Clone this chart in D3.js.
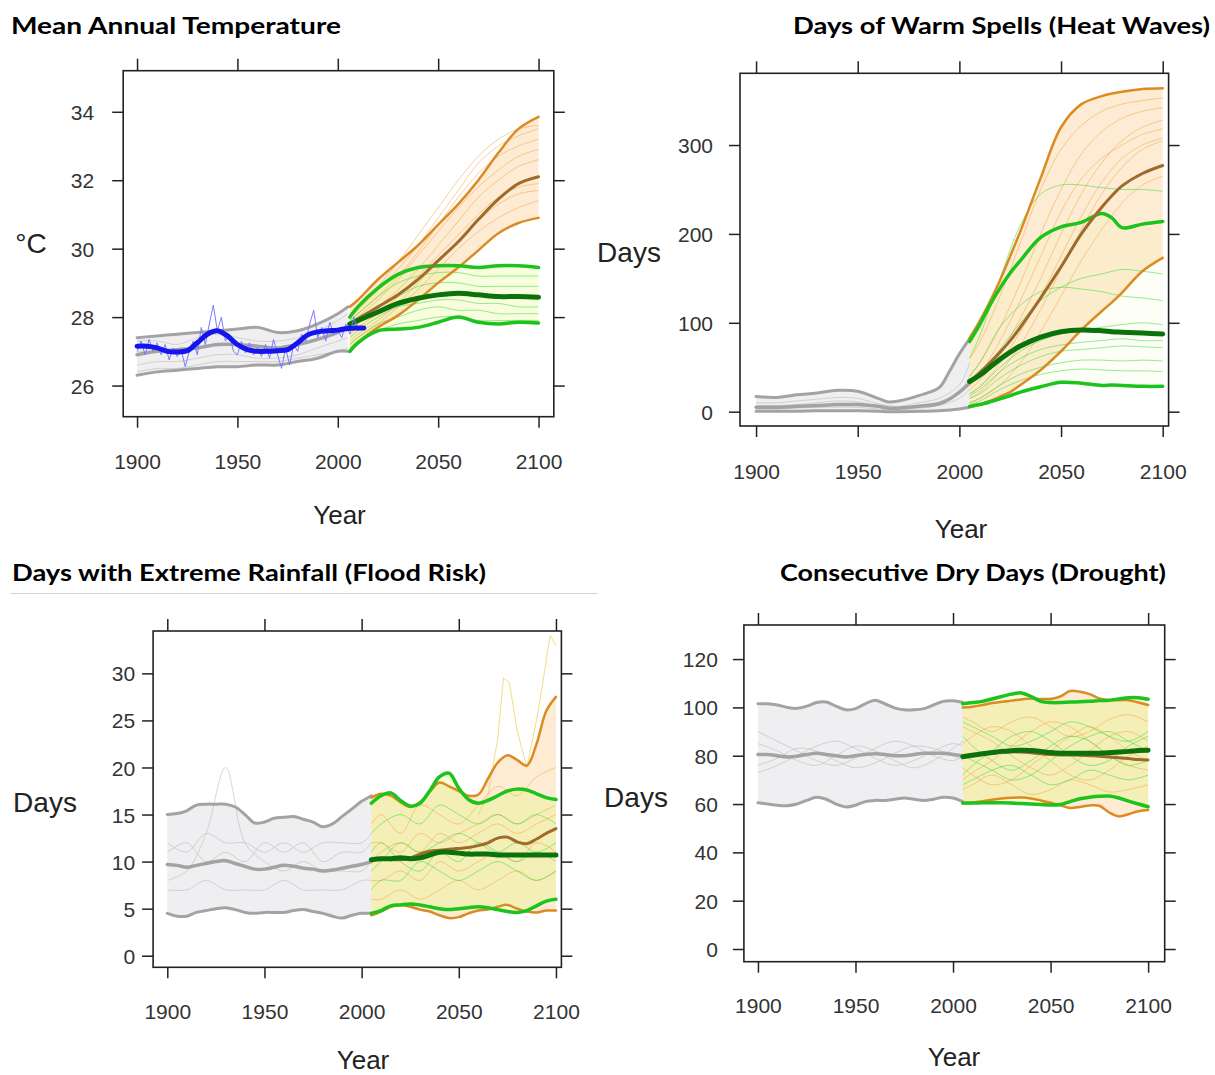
<!DOCTYPE html>
<html>
<head>
<meta charset="utf-8">
<script src="https://cdn.jsdelivr.net/npm/d3@7"></script>
<style>
  body { margin: 0; background: #fff; }
  svg { display: block; }
</style>
</head>
<body>
<svg id="chart" width="1215" height="1075"></svg>
<script>
// ---- shared year axes ----
const X_TICKS = [1900, 1950, 2000, 2050, 2100];
const YEARS_H5 = [1900,1905,1910,1915,1920,1925,1930,1935,1940,1945,1950,1955,1960,1965,1970,1975,1980,1985,1990,1995,2000,2005];
const YEARS_F5 = [2005,2010,2015,2020,2025,2030,2035,2040,2045,2050,2055,2060,2065,2070,2075,2080,2085,2090,2095,2100];
const YEARS_H10 = [1900,1910,1920,1930,1940,1950,1960,1970,1980,1990,2000,2005];
const YEARS_F10 = [2005,2010,2020,2030,2040,2050,2060,2070,2080,2090,2100];
const YEARS_F10_P1 = [2006,2010,2020,2030,2040,2050,2060,2070,2080,2090,2100];

// ---- panel 1: mean annual temperature (°C) ----
const P1_HIST_UP  = [27.4,27.45,27.5,27.55,27.6,27.65,27.7,27.55,27.6,27.8,28.1,28.3];
const P1_HIST_MID = [26.9,27.0,27.05,27.1,27.2,27.2,27.15,27.1,27.2,27.35,27.55,27.7];
const P1_HIST_LO  = [26.3,26.4,26.45,26.5,26.55,26.55,26.6,26.6,26.7,26.8,27.0,27.0];
const P1_HIST_THIN = [
  [27.3,27.3,27.2,27.4,27.5,27.4,27.3,27.3,27.4,27.6,27.9,28.1],
  [27.0,27.0,27.0,27.1,27.2,27.2,27.1,27.1,27.2,27.4,27.6,27.8],
  [26.6,26.7,26.7,26.8,26.9,26.9,26.8,26.8,26.9,27.1,27.3,27.4],
  [26.4,26.5,26.5,26.6,26.7,26.7,26.7,26.7,26.8,26.9,27.0,27.1]
];
const P1_ORANGE_UP  = [28.3,28.5,29.1,29.6,30.1,30.7,31.3,32.0,32.8,33.5,33.85];
const P1_ORANGE_MID = [27.8,27.95,28.3,28.65,29.1,29.65,30.2,30.85,31.45,31.9,32.1];
const P1_ORANGE_LO  = [27.0,27.25,27.7,28.05,28.5,29.0,29.45,29.95,30.45,30.75,30.9];
const P1_GREEN_UP   = [28.0,28.3,28.85,29.25,29.45,29.5,29.5,29.45,29.5,29.5,29.45];
const P1_GREEN_MID  = [27.8,27.9,28.15,28.4,28.55,28.65,28.7,28.65,28.6,28.6,28.58];
const P1_GREEN_LO   = [27.0,27.25,27.6,27.65,27.7,27.85,28.0,27.85,27.8,27.85,27.83];
const P1_ORANGE_THIN = [
  [28.1,28.3,28.9,29.6,30.4,31.2,32.0,32.7,33.2,33.5,33.6],
  [27.8,28.0,28.5,29.1,29.8,30.5,31.2,31.8,32.3,32.7,32.9],
  [27.5,27.7,28.1,28.6,29.2,29.8,30.4,31.0,31.5,31.8,31.9],
  [27.2,27.4,27.8,28.3,28.8,29.4,30.0,30.5,30.9,31.2,31.4],
  [27.9,28.1,28.6,29.2,29.9,30.7,31.5,32.2,32.7,33.0,33.2],
  [27.6,27.8,28.3,28.8,29.4,30.1,30.8,31.5,32.0,32.4,32.6],
  [27.3,27.5,27.9,28.4,29.0,29.6,30.2,30.8,31.3,31.6,31.7],
  [28.0,28.2,28.8,29.4,30.1,30.9,31.7,32.5,33.0,33.3,33.5]
];
const P1_GREEN_THIN = [
  [27.9,28.1,28.6,29.0,29.2,29.3,29.3,29.2,29.2,29.2,29.2],
  [27.6,27.8,28.3,28.6,28.9,29.0,29.0,28.9,28.9,28.9,28.9],
  [27.4,27.6,28.0,28.3,28.4,28.5,28.5,28.4,28.4,28.3,28.3],
  [27.2,27.4,27.8,28.0,28.2,28.3,28.2,28.2,28.1,28.1,28.1],
  [27.1,27.3,27.6,27.8,27.9,28.0,28.0,27.9,27.9,27.9,27.9]
];
// observed record
const P1_OBS_YEARS = [1900,1905,1910,1915,1920,1925,1930,1935,1940,1945,1950,1955,1960,1965,1970,1975,1980,1985,1990,1995,2000,2005,2010,2013];
const P1_OBS_SMOOTH = [27.15,27.15,27.1,27.0,26.98,27.02,27.25,27.5,27.6,27.45,27.2,27.05,27.0,27.0,27.02,27.05,27.25,27.48,27.57,27.6,27.62,27.67,27.68,27.68];
const P1_ANNUAL_YEARS = [1900,1902,1904,1906,1908,1910,1912,1914,1916,1918,1920,1922,1924,1926,1928,1930,1932,1934,1936,1938,
  1940,1942,1944,1946,1948,1950,1952,1954,1956,1958,1960,1962,1964,1966,1968,1970,1972,1974,1976,1978,
  1980,1982,1984,1986,1988,1990,1992,1994,1996,1998,2000,2002,2004,2006,2008,2010,2012];
const P1_ANNUAL = [27.0,27.3,26.9,27.35,27.0,27.25,26.9,27.2,26.75,27.1,26.85,27.05,26.55,27.0,27.3,26.9,27.7,27.2,27.8,28.35,
  27.6,28.0,27.3,27.5,27.0,26.9,27.3,26.95,27.25,26.9,27.1,26.85,27.2,26.8,27.35,26.9,26.5,27.1,26.6,27.2,
  27.0,27.5,27.3,27.8,28.2,27.4,27.7,27.3,27.85,27.5,27.6,27.4,27.8,27.5,28.0,27.6,27.7];

// ---- panel 2: days of warm spells ----
const P2_HIST_YEARS = [1900,1910,1920,1930,1940,1950,1960,1965,1970,1980,1990,1995,2000,2005];
const P2_FUT_YEARS  = [2005,2010,2015,2020,2025,2030,2040,2050,2060,2070,2075,2080,2090,2100];
const P2_HIST_UP  = [17,16,19,21,24,23,15,11,12,18,27,45,65,82];
const P2_HIST_MID = [5,5,6,7,8,8,6,4,4,6,9,14,22,32];
const P2_HIST_LO  = [0.5,0.5,0.5,1,1,1,0.5,0,0,0.5,1,2,3,5];
const P2_HIST_THIN = [
  [10,10,12,14,16,15,9,6,10,15,30,55],
  [3,3,4,5,5,5,3,2,4,7,15,25],
  [7,7,8,10,12,11,7,5,7,11,22,40]
];
const P2_ORANGE_UP  = [83,102,124,148,175,203,263,320,346,355,358,360,363,364];
const P2_ORANGE_MID = [34,44,55,67,80,95,128,163,200,230,243,254,268,277];
const P2_ORANGE_LO  = [5,8,12,17,22,30,47,68,92,113,123,134,158,173];
const P2_GREEN_UP   = [79,98,120,139,156,170,196,208,213,223,218,207,211,214];
const P2_GREEN_MID  = [34,41,50,59,67,74,84,90,92,91,90,89.5,88.5,87.5];
const P2_GREEN_LO   = [6,8,11,14.5,18,22,28,33,32,29.5,30,29.5,28.5,28.5];
const P2_ORANGE_THIN = [
  [60,78,130,190,250,295,322,338,346,350,353],
  [40,55,95,145,200,250,290,315,330,338,342],
  [25,35,65,105,150,200,245,280,305,320,328],
  [15,22,45,75,115,160,205,245,275,295,305],
  [10,15,30,55,90,130,170,205,235,255,265],
  [30,42,80,125,175,225,262,285,300,312,318],
  [20,28,55,90,130,175,220,258,285,300,308]
];
const P2_GREEN_THIN = [
  [60,85,150,210,245,255,255,252,250,250,248],
  [30,40,70,100,125,140,150,155,160,158,155],
  [20,28,50,68,80,88,92,95,98,100,98],
  [15,20,38,52,62,68,70,72,74,73,72],
  [10,15,30,42,50,55,58,58,57,58,57],
  [8,12,25,35,42,46,48,47,46,46,45],
  [18,25,45,60,70,75,78,80,82,80,80],
  [40,55,95,120,135,140,138,135,130,128,125]
];

// ---- panel 3: days with extreme rainfall ----
const P3_HIST_UP  = [15.0,15.1,15.4,16.0,16.1,16.1,16.1,15.8,15.0,14.1,14.2,14.6,14.7,14.8,14.5,14.2,13.7,14.0,14.8,15.6,16.4,17.0];
const P3_HIST_MID = [9.7,9.6,9.4,9.6,9.8,10.0,10.1,9.8,9.5,9.2,9.2,9.4,9.6,9.5,9.3,9.2,9.0,9.1,9.3,9.5,9.7,10.0];
const P3_HIST_LO  = [4.5,4.2,4.2,4.6,4.8,5.0,5.1,4.9,4.6,4.5,4.6,4.6,4.6,4.8,4.9,4.7,4.5,4.2,4.0,4.3,4.5,4.5];
const P3_HIST_THIN = [
  [12,11,13,12,12,11,12,11,12,12,12,13],
  [7,7,8,7,7,7,8,7,7,7,8,8],
  [8,9,13,20,12,10,9,10,9,9,9,10],
  [11,12,10,11,10,12,11,12,10,11,11,12]
];
const P3_ORANGE_UP  = [16.8,17.2,17.0,16.3,15.8,16.3,17.4,18.4,18.0,17.5,17.0,17.1,18.8,20.5,21.3,20.8,20.2,22.5,26.0,27.5];
const P3_ORANGE_MID = [10.2,10.3,10.2,10.2,10.4,10.8,11.1,11.2,11.3,11.4,11.5,11.7,12.0,12.5,12.6,12.1,11.9,12.4,13.0,13.5];
const P3_ORANGE_LO  = [4.3,4.7,5.2,5.4,5.2,4.9,4.7,4.3,4.0,4.1,4.5,4.8,4.9,5.2,5.4,5.0,4.7,4.6,4.8,4.8];
const P3_GREEN_UP   = [16.2,17.0,17.3,16.5,15.9,16.2,17.5,19.0,19.4,17.8,16.6,16.2,16.5,17.0,17.5,17.7,17.6,17.2,16.8,16.6];
const P3_GREEN_MID  = [10.2,10.3,10.3,10.4,10.3,10.4,10.7,11.0,11.0,10.9,10.8,10.8,10.8,10.7,10.7,10.7,10.7,10.7,10.7,10.7];
const P3_GREEN_LO   = [4.5,4.8,5.3,5.4,5.5,5.4,5.2,5.0,4.9,5.0,5.1,5.2,5.1,4.9,4.7,4.6,4.8,5.3,5.8,6.0];
const P3_ORANGE_THIN = [
  [14,15,13,16,15,14,16,18,17,19,20],
  [12,12,11,13,12,13,14,15,14,15,16],
  [8,8,9,8,10,9,10,11,10,12,11],
  [6,6,7,6,7,8,7,8,9,8,9],
  [10,11,12,11,13,12,13,14,13,14,15]
];
const P3_GREEN_THIN = [
  [13,14,15,14,16,15,14,15,14,15,14],
  [9,10,12,11,12,13,12,11,12,11,12],
  [7,8,8,10,9,8,9,10,9,8,9],
  [11,12,10,9,11,10,12,11,10,11,10]
];
const P3_SPIKE_YEARS = [2060,2065,2070,2073,2076,2080,2085,2090,2094,2097,2100];
const P3_SPIKE = [15,17,23,29.5,29,24,20,25,30,34,33];

// ---- panel 4: consecutive dry days ----
const P4_HIST_UP  = [101.5,101.5,101,100,99.6,100.5,102,102.2,100.5,99,99.5,101.5,103,101.5,99.8,99,99,99.5,101,102.5,102.7,102];
const P4_HIST_MID = [80.5,80.5,80,79.5,79.8,80.5,81,80.5,80,79.5,80,80.5,80.8,80.5,80,80,80.5,81,81,81,80.5,80];
const P4_HIST_LO  = [60.5,60,59.5,59.3,60,61.5,62.8,62,60,58.8,59.5,61,61.5,61.5,62,62.5,62,61.5,62,62.8,62.5,61];
const P4_HIST_THIN = [
  [90,86,82,78,76,79,83,86,84,80,78,80],
  [73,76,80,84,86,83,79,76,78,82,85,84],
  [85,82,78,76,80,84,82,78,75,78,83,86],
  [76,79,83,82,78,75,77,81,84,83,80,78]
];
const P4_ORANGE_UP  = [100,100.3,101,101.8,102.3,102.8,103.3,103.7,103.5,103.5,104.5,106.8,106.5,105.5,103.7,103,103,103,102,101];
const P4_ORANGE_MID = [79.6,80.3,80.8,81.2,81.5,81.6,81.5,81.2,80.8,80.5,80.3,80.3,80.2,80,79.8,79.5,79.2,78.8,78.4,78.2];
const P4_ORANGE_LO  = [60.2,60.5,61.2,61.8,62.3,62.6,62.7,62.3,61.5,60.5,59.5,58.4,58.8,59.4,59.3,56.5,54.9,55.8,57,57.5];
const P4_GREEN_UP   = [101.5,102,102.5,103.5,104.5,105.5,106,104.5,102.5,102,102,102.2,102.3,102.5,102.8,103,103.5,104,104,103.4];
const P4_GREEN_MID  = [79.6,80.2,80.8,81.3,81.8,82.1,82.3,82.2,81.8,81.3,81,81,81,81,81,81.2,81.5,81.8,82.2,82.3];
const P4_GREEN_LO   = [60.4,60.4,60.5,60.5,60.5,60.4,60.2,60,59.8,59.6,59.8,61,62.2,62.8,63.2,63.3,62.5,61.2,60,58.9];
const P4_ORANGE_THIN = [
  [92,90,86,80,75,72,76,82,88,90,86],
  [70,73,78,84,90,94,92,86,80,76,74],
  [85,88,92,90,84,78,72,70,74,80,84],
  [75,72,68,70,76,82,88,92,88,82,78],
  [96,94,90,94,96,92,88,90,95,97,94],
  [66,68,72,68,64,66,70,68,65,66,68]
];
const P4_GREEN_THIN = [
  [88,84,78,74,78,84,88,86,80,76,78],
  [72,76,82,88,90,86,80,76,78,84,88],
  [80,78,74,70,72,78,84,88,90,86,82],
  [94,92,88,84,86,90,94,92,88,86,90],
  [68,70,74,76,72,68,70,74,72,70,72]
];

// ---- colours ----
const C = {
  grayBold: '#a3a3a3', grayBand: '#e0e0e4', grayThin: '#bcbcbc',
  orange: '#dc8b22', orangeMid: '#a06a2c', orangeBand: '#f8c476', orangeThin: '#f3a94a',
  green: '#1dc31d', greenMid: '#0b720b', greenBand: '#e4f77a', greenThin: '#3fdc3f',
  blue: '#1414ee', blueThin: '#7a7aff', axis: '#222', tick: '#333'
};

const panels = [
  {
    title: 'Mean Annual Temperature', titleX: 11, titleW: 330, titleY: 34,
    frame: {x0: 123.2, x1: 553.8, y0: 70.7, y1: 416.7},
    xDom: [1893.1, 2107.6], yDom: [25.09, 35.2], yTicks: [26, 28, 30, 32, 34],
    yLabOff: 29, xLabOff: 45,
    yLabel: '°C', yLabelPos: [31, 243], xLabelPos: [339.5, 515],
    histYears: YEARS_H10, histUp: P1_HIST_UP, histMid: P1_HIST_MID, histLo: P1_HIST_LO, histThin: P1_HIST_THIN,
    futYears: YEARS_F10_P1, thinYears: YEARS_F10_P1,
    oUp: P1_ORANGE_UP, oMid: P1_ORANGE_MID, oLo: P1_ORANGE_LO,
    gUp: P1_GREEN_UP, gMid: P1_GREEN_MID, gLo: P1_GREEN_LO,
    oThin: P1_ORANGE_THIN, gThin: P1_GREEN_THIN, obs: true, greenOpacity: 0.25
  },
  {
    title: 'Days of Warm Spells (Heat Waves)', titleX: 793, titleW: 417, titleY: 34,
    frame: {x0: 740, x1: 1168.6, y0: 73.3, y1: 426},
    xDom: [1892.1, 2102.9], yDom: [-16.1, 380.7], yTicks: [0, 100, 200, 300],
    yLabOff: 27, xLabOff: 45.7,
    yLabel: 'Days', yLabelPos: [629, 252], xLabelPos: [961, 529],
    histYears: P2_HIST_YEARS, histUp: P2_HIST_UP, histMid: P2_HIST_MID, histLo: P2_HIST_LO, histThin: P2_HIST_THIN,
    histThinYears: YEARS_H10,
    futYears: P2_FUT_YEARS, thinYears: YEARS_F10,
    oUp: P2_ORANGE_UP, oMid: P2_ORANGE_MID, oLo: P2_ORANGE_LO,
    gUp: P2_GREEN_UP, gMid: P2_GREEN_MID, gLo: P2_GREEN_LO,
    oThin: P2_ORANGE_THIN, gThin: P2_GREEN_THIN, greenOpacity: 0.08
  },
  {
    title: 'Days with Extreme Rainfall (Flood Risk)', titleX: 12, titleW: 474, titleY: 581, rule: true,
    frame: {x0: 153.1, x1: 561.4, y0: 631, y1: 967.3},
    xDom: [1892.7, 2102.8], yDom: [-1.23, 34.5], yTicks: [0, 5, 10, 15, 20, 25, 30],
    yLabOff: 18, xLabOff: 44.4,
    yLabel: 'Days', yLabelPos: [45, 802], xLabelPos: [363, 1060],
    histYears: YEARS_H5, histUp: P3_HIST_UP, histMid: P3_HIST_MID, histLo: P3_HIST_LO, histThin: P3_HIST_THIN,
    histThinYears: YEARS_H10,
    futYears: YEARS_F5, thinYears: YEARS_F10,
    oUp: P3_ORANGE_UP, oMid: P3_ORANGE_MID, oLo: P3_ORANGE_LO,
    gUp: P3_GREEN_UP, gMid: P3_GREEN_MID, gLo: P3_GREEN_LO,
    oThin: P3_ORANGE_THIN, gThin: P3_GREEN_THIN, spike: true, greenOpacity: 0.32
  },
  {
    title: 'Consecutive Dry Days (Drought)', titleX: 780, titleW: 386, titleY: 581,
    frame: {x0: 743.9, x1: 1164.7, y0: 625, y1: 961.7},
    xDom: [1892.8, 2108.5], yDom: [-5.25, 134.1], yTicks: [0, 20, 40, 60, 80, 100, 120],
    yLabOff: 26, xLabOff: 43.3,
    yLabel: 'Days', yLabelPos: [636, 797], xLabelPos: [954, 1057],
    histYears: YEARS_H5, histUp: P4_HIST_UP, histMid: P4_HIST_MID, histLo: P4_HIST_LO, histThin: P4_HIST_THIN,
    histThinYears: YEARS_H10,
    futYears: YEARS_F5, thinYears: YEARS_F10,
    oUp: P4_ORANGE_UP, oMid: P4_ORANGE_MID, oLo: P4_ORANGE_LO,
    gUp: P4_GREEN_UP, gMid: P4_GREEN_MID, gLo: P4_GREEN_LO,
    oThin: P4_ORANGE_THIN, gThin: P4_GREEN_THIN, greenOpacity: 0.32
  }
];

const svg = d3.select('#chart');
const AXIS_FONT = '"Liberation Sans", Arial, Helvetica, sans-serif';

function drawPanel(p, idx) {
  const f = p.frame;
  const x = d3.scaleLinear().domain(p.xDom).range([f.x0, f.x1]);
  const y = d3.scaleLinear().domain(p.yDom).range([f.y1, f.y0]);
  const curve = d3.curveCatmullRom.alpha(0.5);

  const mkLine = (xs) => d3.line().x((d, i) => x(xs[i])).y(d => y(d)).curve(curve);
  const mkArea = (xs, lo) => d3.area().x((d, i) => x(xs[i])).y0((d, i) => y(lo[i])).y1(d => y(d)).curve(curve);

  // title
  svg.append('text')
    .attr('x', p.titleX).attr('y', p.titleY)
    .attr('textLength', p.titleW).attr('lengthAdjust', 'spacingAndGlyphs')
    .style('font-family', 'Lato, "Noto Sans", sans-serif')
    .style('font-weight', 700).style('font-size', '23px').attr('fill', '#000')
    .text(p.title);
  if (p.rule) {
    svg.append('line').attr('x1', 10).attr('x2', 598).attr('y1', 593.5).attr('y2', 593.5)
      .attr('stroke', '#d4d4d4').attr('stroke-width', 1);
  }

  const g = svg.append('g');
  const clipId = 'clip' + idx;
  g.append('clipPath').attr('id', clipId).append('rect')
    .attr('x', f.x0).attr('y', f.y0).attr('width', f.x1 - f.x0).attr('height', f.y1 - f.y0);
  const plot = g.append('g').attr('clip-path', `url(#${clipId})`);

  // bands
  plot.append('path').datum(p.histUp).attr('d', mkArea(p.histYears, p.histLo))
    .attr('fill', C.grayBand).attr('fill-opacity', 0.5);
  plot.append('path').datum(p.oUp).attr('d', mkArea(p.futYears, p.oLo))
    .attr('fill', C.orangeBand).attr('fill-opacity', 0.32);
  plot.append('path').datum(p.gUp).attr('d', mkArea(p.futYears, p.gLo))
    .attr('fill', C.greenBand).attr('fill-opacity', p.greenOpacity);

  // thin ensemble members
  const hty = p.histThinYears || p.histYears;
  plot.selectAll('path.hthin').data(p.histThin).join('path').attr('class', 'hthin')
    .attr('d', mkLine(hty)).attr('fill', 'none').attr('stroke', C.grayThin)
    .attr('stroke-width', 1).attr('stroke-opacity', 0.6);
  plot.selectAll('path.othin').data(p.oThin).join('path').attr('class', 'othin')
    .attr('d', mkLine(p.thinYears)).attr('fill', 'none').attr('stroke', C.orangeThin)
    .attr('stroke-width', 1).attr('stroke-opacity', 0.55);
  plot.selectAll('path.gthin').data(p.gThin).join('path').attr('class', 'gthin')
    .attr('d', mkLine(p.thinYears)).attr('fill', 'none').attr('stroke', C.greenThin)
    .attr('stroke-width', 1).attr('stroke-opacity', 0.55);
  if (p.spike) {
    plot.append('path').datum(P3_SPIKE)
      .attr('d', d3.line().x((d, i) => x(P3_SPIKE_YEARS[i])).y(d => y(d)))
      .attr('fill', 'none').attr('stroke', '#e8d24a').attr('stroke-width', 1).attr('stroke-opacity', 0.7);
  }

  // bold envelope + median lines
  const bold = [
    [p.histYears, p.histUp, C.grayBold, 3],
    [p.histYears, p.histLo, C.grayBold, 3],
    [p.histYears, p.histMid, C.grayBold, 3.5],
    [p.futYears, p.oUp, C.orange, 2.5],
    [p.futYears, p.oLo, C.orange, 2.5],
    [p.futYears, p.gUp, C.green, 3.5],
    [p.futYears, p.gLo, C.green, 3.5],
    [p.futYears, p.oMid, C.orangeMid, 3],
    [p.futYears, p.gMid, C.greenMid, 5]
  ];
  bold.forEach(([xs, vals, col, w]) => {
    plot.append('path').datum(vals).attr('d', mkLine(xs))
      .attr('fill', 'none').attr('stroke', col).attr('stroke-width', w)
      .attr('stroke-linecap', 'round').attr('stroke-linejoin', 'round');
  });

  if (p.obs) {
    plot.append('path').datum(P1_ANNUAL)
      .attr('d', d3.line().x((d, i) => x(P1_ANNUAL_YEARS[i])).y(d => y(d)))
      .attr('fill', 'none').attr('stroke', C.blueThin).attr('stroke-width', 1);
    plot.append('path').datum(P1_OBS_SMOOTH).attr('d', mkLine(P1_OBS_YEARS))
      .attr('fill', 'none').attr('stroke', C.blue).attr('stroke-width', 5)
      .attr('stroke-linecap', 'round');
  }

  // frame
  g.append('rect').attr('x', f.x0).attr('y', f.y0)
    .attr('width', f.x1 - f.x0).attr('height', f.y1 - f.y0)
    .attr('fill', 'none').attr('stroke', C.axis).attr('stroke-width', 1.6);

  // axes (lattice style: ticks on all four sides, labels bottom/left)
  const styleAxis = sel => {
    sel.select('.domain').remove();
    sel.selectAll('line').attr('stroke', C.axis).attr('stroke-width', 1.5);
    sel.selectAll('text').style('font-family', AXIS_FONT).style('font-size', '21px').attr('fill', C.tick);
  };
  g.append('g').attr('transform', `translate(0,${f.y1})`)
    .call(d3.axisBottom(x).tickValues(X_TICKS).tickSize(11).tickFormat(d3.format('d')))
    .call(styleAxis)
    .call(s => s.selectAll('text').attr('y', p.xLabOff).attr('dy', '0.36em'));
  g.append('g').attr('transform', `translate(0,${f.y0})`)
    .call(d3.axisTop(x).tickValues(X_TICKS).tickSize(12).tickFormat(''))
    .call(styleAxis);
  g.append('g').attr('transform', `translate(${f.x0},0)`)
    .call(d3.axisLeft(y).tickValues(p.yTicks).tickSize(11))
    .call(styleAxis)
    .call(s => s.selectAll('text').attr('x', -p.yLabOff).attr('dy', '0.36em'));
  g.append('g').attr('transform', `translate(${f.x1},0)`)
    .call(d3.axisRight(y).tickValues(p.yTicks).tickSize(11).tickFormat(''))
    .call(styleAxis);

  // axis titles
  svg.append('text').attr('x', p.xLabelPos[0]).attr('y', p.xLabelPos[1]).attr('dy', '0.36em')
    .attr('text-anchor', 'middle').style('font-family', AXIS_FONT).style('font-size', '26px')
    .attr('fill', C.axis).text('Year');
  svg.append('text').attr('x', p.yLabelPos[0]).attr('y', p.yLabelPos[1]).attr('dy', '0.36em')
    .attr('text-anchor', 'middle').style('font-family', AXIS_FONT).style('font-size', '28px')
    .attr('fill', C.axis).text(p.yLabel);
}

panels.forEach(drawPanel);
</script>
</body>
</html>
